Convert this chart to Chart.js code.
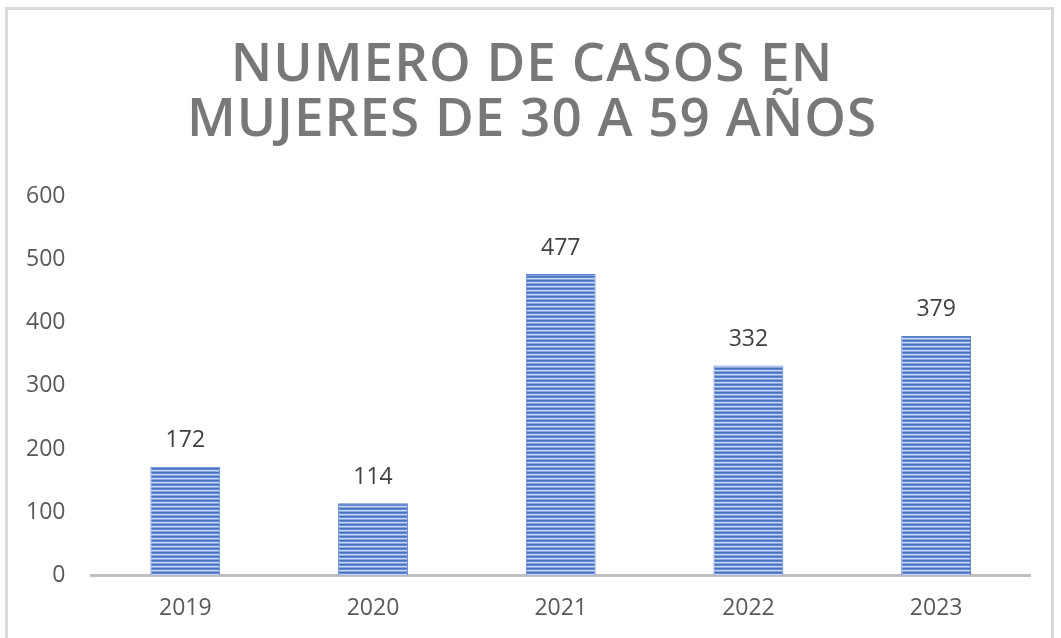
<!DOCTYPE html>
<html lang="es">
<head>
    <meta charset="UTF-8">
    <title>Numero de casos en mujeres de 30 a 59 años</title>
    <style>
        html, body {
            margin: 0;
            padding: 0;
            background: #ffffff;
            overflow: hidden;
        }
        .wrap {
            position: absolute;
            left: 0;
            top: 0;
            width: 1061px;
            height: 638px;
            overflow: hidden;
        }
    </style>
</head>
<body>
    <div class="wrap">
        <canvas id="casosChart" width="1061" height="641"></canvas>
    </div>

    <script src="https://cdn.jsdelivr.net/npm/chart.js"></script>
    <script>
        // datos del grafico
        const anios = ['2019', '2020', '2021', '2022', '2023'];
        const casos = [172, 114, 477, 332, 379];
        const tituloLineas = ['NUMERO DE CASOS EN', 'MUJERES DE 30 A 59 AÑOS'];

        // relleno a rayas horizontales como en Excel
        function crearPatron() {
            var c = document.createElement('canvas');
            c.width = 8;
            c.height = 4;
            var p = c.getContext('2d');
            var filas = ['#4470c2', '#648ad2', '#c6d5f1', '#8aa7de'];
            filas.forEach(function (col, i) {
                p.fillStyle = col;
                p.fillRect(0, i, 8, 1);
            });
            return p.createPattern(c, 'repeat');
        }

        // marco gris del grafico
        const marco = {
            id: 'marco',
            beforeDraw: function (chart) {
                var ctx = chart.ctx;
                ctx.save();
                ctx.strokeStyle = '#d9d9d9';
                ctx.lineWidth = 3;
                ctx.strokeRect(6.5, 8.5, 1046, 700);
                ctx.restore();
            }
        };

        // titulo un poco a la derecha y con espaciado entre letras
        const ajusteTitulo = {
            id: 'ajusteTitulo',
            afterLayout: function (chart) {
                var t = chart.titleBlock;
                if (!t) return;
                t.left += 34;
                if (!t._espaciado) {
                    var dibujar = t.draw.bind(t);
                    t.draw = function () {
                        chart.ctx.save();
                        chart.ctx.letterSpacing = '1px';
                        dibujar();
                        chart.ctx.restore();
                    };
                    t._espaciado = true;
                }
            }
        };

        // etiquetas de valor encima de cada barra
        const etiquetas = {
            id: 'etiquetas',
            afterDatasetsDraw: function (chart) {
                var ctx = chart.ctx;
                var meta = chart.getDatasetMeta(0);
                ctx.save();
                ctx.font = '23px "Open Sans"';
                ctx.fillStyle = '#404040';
                ctx.textAlign = 'center';
                ctx.textBaseline = 'middle';
                meta.data.forEach(function (bar, i) {
                    ctx.fillText(String(casos[i]), bar.x, bar.y - 26);
                });
                ctx.restore();
            }
        };

        window.onload = function () {
            var ctx = document.getElementById('casosChart').getContext('2d');
            new Chart(ctx, {
                type: 'bar',
                data: {
                    labels: anios,
                    datasets: [{
                        label: 'Casos',
                        data: casos,
                        backgroundColor: crearPatron(),
                        borderColor: '#5a7fcc',
                        borderWidth: 1,
                        categoryPercentage: 0.372,
                        barPercentage: 1
                    }]
                },
                options: {
                    responsive: false,
                    animation: false,
                    layout: {
                        padding: { left: 0, right: 31, top: 18, bottom: 0 }
                    },
                    plugins: {
                        legend: { display: false },
                        tooltip: { enabled: false },
                        title: {
                            display: true,
                            text: tituloLineas,
                            color: '#787878',
                            font: { family: '"Open Sans"', size: 53, weight: '600', lineHeight: 1.04 },
                            padding: { top: 20, bottom: 48 }
                        }
                    },
                    scales: {
                        x: {
                            grid: { display: false, drawTicks: false },
                            border: { display: true, color: '#bfbfbf', width: 3 },
                            ticks: {
                                color: '#595959',
                                font: { family: '"Open Sans"', size: 23 },
                                padding: 19
                            }
                        },
                        y: {
                            min: 0,
                            max: 600,
                            grid: { display: false, drawTicks: false },
                            border: { display: false },
                            ticks: {
                                stepSize: 100,
                                color: '#595959',
                                font: { family: '"Open Sans"', size: 23 },
                                padding: 26
                            }
                        }
                    }
                },
                plugins: [marco, ajusteTitulo, etiquetas]
            });
        };
    </script>
</body>
</html>
